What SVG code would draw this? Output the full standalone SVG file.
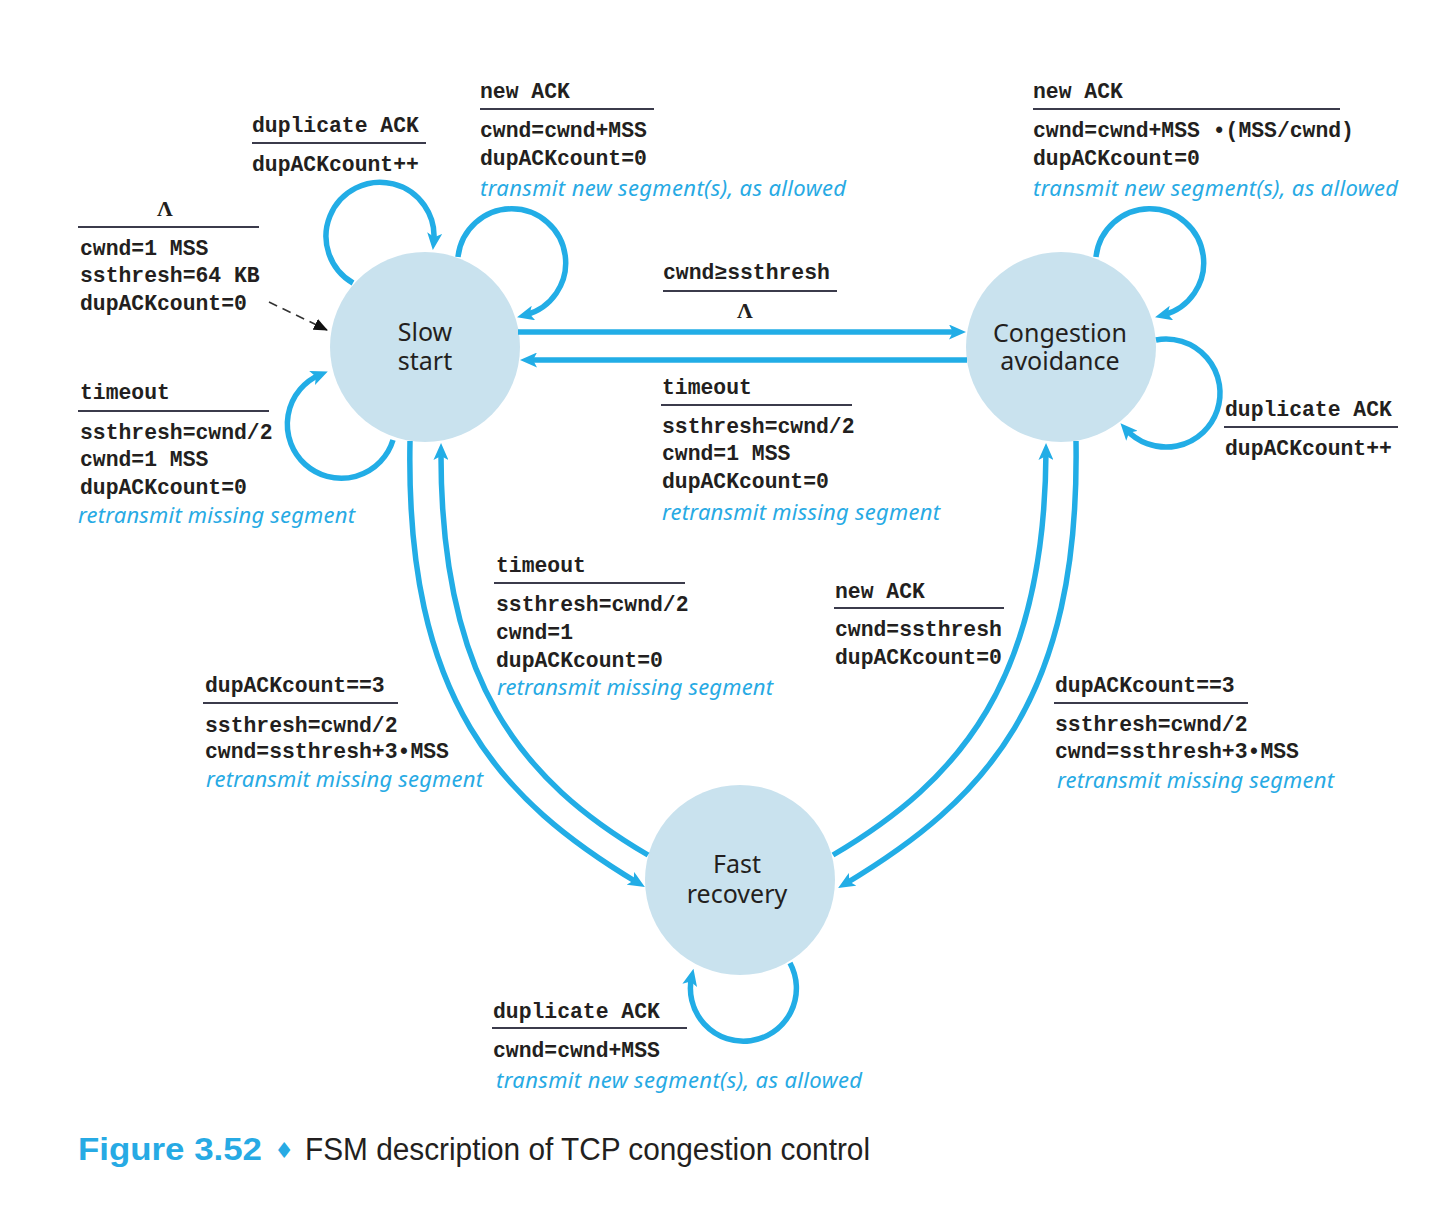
<svg xmlns="http://www.w3.org/2000/svg" width="1450" height="1228" viewBox="0 0 1450 1228">
<style>
.m{font-family:"Liberation Mono","DejaVu Sans Mono",monospace;font-size:21.4px;font-weight:bold;fill:#231f20}
.i{font-family:"Noto Sans","Open Sans",sans-serif;font-style:italic;font-size:22px;fill:#27aae4}
.n{font-family:"Noto Sans","Open Sans",sans-serif;font-size:25px;fill:#231f20;text-anchor:middle}
.u{stroke:#3b3b4b;stroke-width:2}
.c{fill:none;stroke:#22ade6;stroke-width:5.5;marker-end:url(#ah)}
.node{fill:#c9e2ee}
</style>
<defs>
<marker id="ah" markerUnits="userSpaceOnUse" viewBox="0 0 17 15" refX="9" refY="7.5" markerWidth="17" markerHeight="15" orient="auto">
<path d="M0,0 L17,7.5 L0,15 L4,7.5 z" fill="#22ade6"/>
</marker>
<marker id="bh" markerUnits="userSpaceOnUse" viewBox="0 0 14 12" refX="13" refY="6" markerWidth="14" markerHeight="12" orient="auto">
<path d="M0,0 L14,6 L0,12 z" fill="#111"/>
</marker>
</defs>
<rect width="1450" height="1228" fill="#fff"/>

<g id="node-slow-start">
<circle class="node" cx="425" cy="347" r="95"/>
<text class="n" x="425" y="341">Slow<tspan x="425" dy="29">start</tspan></text>
</g>
<g id="node-congestion-avoidance">
<circle class="node" cx="1061" cy="347" r="95"/>
<text class="n" x="1060" y="342">Congestion<tspan x="1060" dy="28">avoidance</tspan></text>
</g>
<g id="node-fast-recovery">
<circle class="node" cx="740" cy="880" r="95"/>
<text class="n" x="737" y="873">Fast<tspan x="737" dy="30">recovery</tspan></text>
</g>

<g id="connectors">
<path d="M269,302 L327,330" fill="none" stroke="#333" stroke-width="1.6" stroke-dasharray="9 6" marker-end="url(#bh)"/>
<path class="c" d="M353,283 A54,54 0 1 1 433.7,242.1"/>
<path class="c" d="M458,257 A54,54 0 1 1 524.8,315.2"/>
<path class="c" d="M393,440 A54,54 0 1 1 320.4,374.5"/>
<path class="c" d="M1096,257 A54,54 0 1 1 1162.8,315.2"/>
<path class="c" d="M1156,340 A54,54 0 1 1 1125.8,429.1"/>
<path class="c" d="M790,963 A53,53 0 1 1 691.7,976.6"/>
<path class="c" d="M518,332 L958,332"/>
<path class="c" d="M967,360 L528,360"/>
<path class="c" d="M410,441 C405,700 500,800 638,883"/>
<path class="c" d="M648,855 C520,780 440,680 441,451"/>
<path class="c" d="M833,855 C960,780 1045,680 1046,451"/>
<path class="c" d="M1076,441 C1080,700 985,800 845,884"/>
</g>

<g id="labels">
<g id="label-init">
<text x="165" y="216" text-anchor="middle" style="font-family:'Liberation Serif',serif;font-size:22px;font-weight:bold;fill:#231f20">Λ</text>
<line class="u" x1="78" y1="227" x2="259" y2="227"/>
<text class="m" x="80" y="255">cwnd=1 MSS</text>
<text class="m" x="80" y="282">ssthresh=64 KB</text>
<text class="m" x="80" y="310">dupACKcount=0</text>
</g>
<g id="label-ss-dup">
<text class="m" x="252" y="132">duplicate ACK</text>
<line class="u" x1="252" y1="143" x2="426" y2="143"/>
<text class="m" x="252" y="171">dupACKcount++</text>
</g>
<g id="label-ss-new">
<text class="m" x="480" y="98">new ACK</text>
<line class="u" x1="480" y1="109" x2="654" y2="109"/>
<text class="m" x="480" y="137">cwnd=cwnd+MSS</text>
<text class="m" x="480" y="165">dupACKcount=0</text>
<text class="i" x="480" y="196" textLength="366">transmit new segment(s), as allowed</text>
</g>
<g id="label-ss-timeout">
<text class="m" x="80" y="399">timeout</text>
<line class="u" x1="78" y1="411" x2="269" y2="411"/>
<text class="m" x="80" y="439">ssthresh=cwnd/2</text>
<text class="m" x="80" y="466">cwnd=1 MSS</text>
<text class="m" x="80" y="494">dupACKcount=0</text>
<text class="i" x="78" y="523" textLength="277">retransmit missing segment</text>
</g>
<g id="label-ss-ca">
<text class="m" x="663" y="279">cwnd≥ssthresh</text>
<line class="u" x1="663" y1="291" x2="837" y2="291"/>
<text x="745" y="318" text-anchor="middle" style="font-family:'Liberation Serif',serif;font-size:22px;font-weight:bold;fill:#231f20">Λ</text>
</g>
<g id="label-ca-ss">
<text class="m" x="662" y="394">timeout</text>
<line class="u" x1="661" y1="405" x2="852" y2="405"/>
<text class="m" x="662" y="433">ssthresh=cwnd/2</text>
<text class="m" x="662" y="460">cwnd=1 MSS</text>
<text class="m" x="662" y="488">dupACKcount=0</text>
<text class="i" x="662" y="520" textLength="278">retransmit missing segment</text>
</g>
<g id="label-ca-new">
<text class="m" x="1033" y="98">new ACK</text>
<line class="u" x1="1033" y1="109" x2="1340" y2="109"/>
<text class="m" x="1033" y="137">cwnd=cwnd+MSS •(MSS/cwnd)</text>
<text class="m" x="1033" y="165">dupACKcount=0</text>
<text class="i" x="1033" y="196" textLength="365">transmit new segment(s), as allowed</text>
</g>
<g id="label-ca-dup">
<text class="m" x="1225" y="416">duplicate ACK</text>
<line class="u" x1="1224" y1="427" x2="1398" y2="427"/>
<text class="m" x="1225" y="455">dupACKcount++</text>
</g>
<g id="label-fr-timeout">
<text class="m" x="496" y="572">timeout</text>
<line class="u" x1="494" y1="583" x2="685" y2="583"/>
<text class="m" x="496" y="611">ssthresh=cwnd/2</text>
<text class="m" x="496" y="639">cwnd=1</text>
<text class="m" x="496" y="667">dupACKcount=0</text>
<text class="i" x="497" y="695" textLength="276">retransmit missing segment</text>
</g>
<g id="label-fr-new">
<text class="m" x="835" y="598">new ACK</text>
<line class="u" x1="834" y1="608" x2="1004" y2="608"/>
<text class="m" x="835" y="636">cwnd=ssthresh</text>
<text class="m" x="835" y="664">dupACKcount=0</text>
</g>
<g id="label-ss-fr">
<text class="m" x="205" y="692">dupACKcount==3</text>
<line class="u" x1="203" y1="703" x2="398" y2="703"/>
<text class="m" x="205" y="732">ssthresh=cwnd/2</text>
<text class="m" x="205" y="758">cwnd=ssthresh+3•MSS</text>
<text class="i" x="206" y="787" textLength="277">retransmit missing segment</text>
</g>
<g id="label-ca-fr">
<text class="m" x="1055" y="692">dupACKcount==3</text>
<line class="u" x1="1054" y1="703" x2="1248" y2="703"/>
<text class="m" x="1055" y="731">ssthresh=cwnd/2</text>
<text class="m" x="1055" y="758">cwnd=ssthresh+3•MSS</text>
<text class="i" x="1057" y="788" textLength="277">retransmit missing segment</text>
</g>
<g id="label-fr-dup">
<text class="m" x="493" y="1018">duplicate ACK</text>
<line class="u" x1="492" y1="1028" x2="687" y2="1028"/>
<text class="m" x="493" y="1057">cwnd=cwnd+MSS</text>
<text class="i" x="496" y="1088" textLength="366">transmit new segment(s), as allowed</text>
</g>
</g>

<g id="caption">
<text x="78" y="1160" textLength="184" lengthAdjust="spacingAndGlyphs" style="font-family:'Liberation Sans',Arial,sans-serif;font-weight:bold;font-size:32px;fill:#27aae4">Figure 3.52</text>
<text x="284" y="1158" text-anchor="middle" style="font-family:'DejaVu Sans',sans-serif;font-size:22px;fill:#27aae4">♦</text>
<text x="305" y="1160" textLength="565" lengthAdjust="spacingAndGlyphs" style="font-family:'Liberation Sans',Arial,sans-serif;font-size:31px;fill:#231f20">FSM description of TCP congestion control</text>
</g>
</svg>
